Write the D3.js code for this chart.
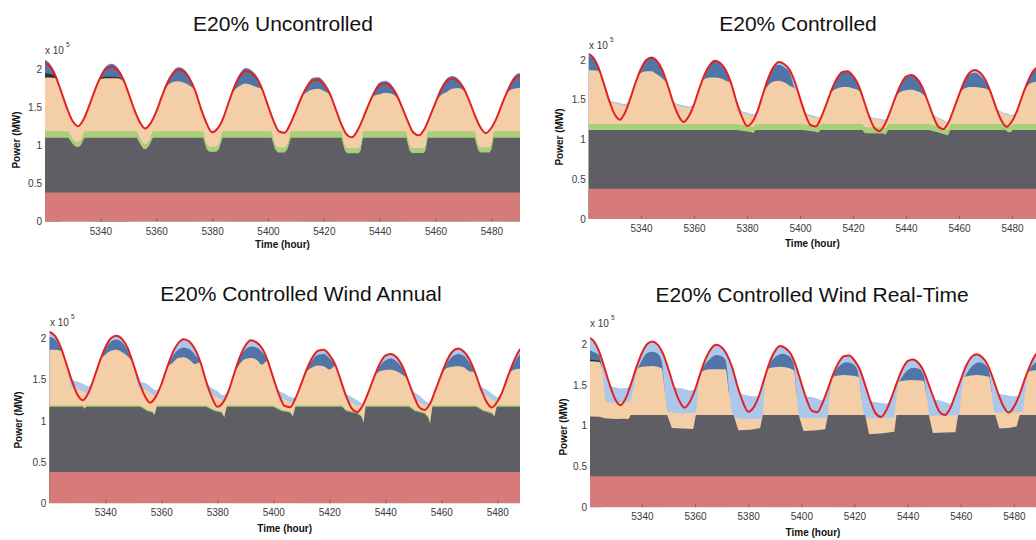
<!DOCTYPE html>
<html>
<head>
<meta charset="utf-8">
<script src="https://cdn.jsdelivr.net/npm/d3@7"></script>
<style>
  body { margin: 0; background: #ffffff; }
  svg { display: block; }
  text { font-family: "Liberation Sans", Arial, Helvetica, sans-serif; }
</style>
</head>
<body>
<svg id="chart" width="1036" height="540"></svg>
<script>
// ---- data (power levels in units of 1e5 MW) ----
const TITLES = ["E20% Uncontrolled", "E20% Controlled", "E20% Controlled Wind Annual", "E20% Controlled Wind Real-Time"];
const X_TICKS = [5340, 5360, 5380, 5400, 5420, 5440, 5460, 5480];
const Y_TICKS = [0, 0.5, 1, 1.5, 2];
const Y_TICK_LABELS = ["0", "0.5", "1", "1.5", "2"];

// sampling hours of the smooth series
const HOURS = [5320,5322,5324,5326,5328,5330,5332,5334,5336,5338,
  5340,5342,5344,5346,5348,5350,5352,5354,5356,5358,
  5360,5362,5364,5366,5368,5370,5372,5374,5376,5378,
  5380,5382,5384,5386,5388,5390,5392,5394,5396,5398,
  5400,5402,5404,5406,5408,5410,5412,5414,5416,5418,
  5420,5422,5424,5426,5428,5430,5432,5434,5436,5438,
  5440,5442,5444,5446,5448,5450,5452,5454,5456,5458,
  5460,5462,5464,5466,5468,5470,5472,5474,5476,5478,
  5480,5482,5484,5486,5488,5490,5492];

// system load (red line), same in every scenario
const LOAD = [2.08,2.03,1.90,1.70,1.49,1.32,1.25,1.34,1.52,1.72,
  1.89,2.00,2.03,1.99,1.88,1.69,1.48,1.31,1.22,1.29,
  1.44,1.64,1.82,1.94,1.99,1.96,1.87,1.71,1.48,1.29,
  1.17,1.22,1.36,1.57,1.77,1.91,1.975,1.95,1.88,1.73,
  1.52,1.32,1.18,1.165,1.28,1.45,1.63,1.77,1.85,1.86,
  1.80,1.69,1.50,1.30,1.15,1.105,1.19,1.35,1.53,1.69,
  1.79,1.81,1.77,1.67,1.50,1.32,1.17,1.13,1.21,1.38,
  1.56,1.73,1.84,1.875,1.84,1.75,1.59,1.40,1.24,1.16,
  1.23,1.37,1.56,1.73,1.86,1.91,1.915];

const NUCLEAR = [[5318, 0.38], [5494, 0.38]];

// ---- Uncontrolled ----
const UNC_TOP = [2.128,2.068,1.938,1.70,1.49,1.32,1.25,1.34,1.52,1.72,
  1.918,2.038,2.073,2.028,1.908,1.69,1.48,1.31,1.22,1.29,
  1.44,1.64,1.848,1.973,2.028,1.998,1.898,1.71,1.48,1.29,
  1.17,1.22,1.36,1.57,1.798,1.948,2.018,1.988,1.908,1.73,
  1.52,1.32,1.18,1.165,1.28,1.45,1.63,1.798,1.888,1.898,
  1.838,1.708,1.50,1.30,1.15,1.105,1.19,1.35,1.53,1.718,
  1.828,1.848,1.808,1.688,1.50,1.32,1.17,1.13,1.21,1.38,
  1.56,1.758,1.878,1.913,1.878,1.778,1.59,1.40,1.24,1.16,
  1.23,1.37,1.56,1.758,1.898,1.948,1.953];
const UNC_TAN = [1.89,1.89,1.88,1.70,1.49,1.32,1.25,1.34,1.52,1.72,
  1.87,1.88,1.88,1.88,1.85,1.69,1.48,1.31,1.22,1.29,
  1.44,1.64,1.78,1.83,1.84,1.82,1.78,1.71,1.48,1.29,
  1.17,1.22,1.36,1.57,1.72,1.78,1.81,1.79,1.76,1.73,
  1.52,1.32,1.18,1.165,1.28,1.45,1.63,1.70,1.73,1.74,
  1.71,1.66,1.50,1.30,1.15,1.105,1.19,1.35,1.53,1.65,
  1.67,1.69,1.68,1.63,1.50,1.32,1.17,1.13,1.21,1.38,
  1.56,1.66,1.70,1.74,1.75,1.72,1.59,1.40,1.24,1.16,
  1.23,1.37,1.56,1.70,1.74,1.75,1.75];
const UNC_DARKBLUE = [
  [[5320,2.12],[5322,2.06],[5324,1.93],[5326,1.70]],
  [[5338,1.72],[5340,1.91],[5342,2.03],[5344,2.065],[5346,2.02],[5348,1.90],[5350,1.69]],
  [[5362,1.64],[5364,1.84],[5366,1.965],[5368,2.02],[5370,1.99],[5372,1.89],[5374,1.71]],
  [[5386,1.57],[5388,1.79],[5390,1.94],[5392,2.01],[5394,1.98],[5396,1.90],[5398,1.73]],
  [[5412,1.63],[5414,1.79],[5416,1.88],[5418,1.89],[5420,1.83],[5422,1.70],[5424,1.50]],
  [[5436,1.53],[5438,1.71],[5440,1.82],[5442,1.84],[5444,1.80],[5446,1.68],[5448,1.50]],
  [[5460,1.56],[5462,1.75],[5464,1.87],[5466,1.905],[5468,1.87],[5470,1.77],[5472,1.59]],
  [[5484,1.56],[5486,1.75],[5488,1.89],[5490,1.94],[5492,1.945]]
];
const UNC_BLACK = [
  [[5320,1.945],[5322,1.935],[5324,1.90],[5326,1.70]],
  [[5338,1.72],[5340,1.885],[5342,1.90],[5344,1.90],[5346,1.895],[5348,1.86],[5350,1.69]]
];
const UNC_GREEN = [[5318,1.185],[5328.5,1.185],[5330,1.09],[5331,1.05],[5332,1.04],[5333,1.065],[5334.3,1.185],
  [5353,1.185],[5354.5,1.07],[5355.5,1.015],[5356.5,1.015],[5357.5,1.07],[5358.8,1.185],
  [5376.8,1.185],[5378,1.02],[5379,0.98],[5381.5,0.98],[5382.5,1.02],[5383.7,1.185],
  [5401.3,1.185],[5402.5,1.02],[5403.5,0.97],[5406,0.97],[5407,1.02],[5408.2,1.185],
  [5426.3,1.185],[5427.5,1.0],[5428.3,0.96],[5432.5,0.96],[5433.2,1.0],[5434,1.185],
  [5449.5,1.185],[5450.7,1.0],[5451.5,0.965],[5455.8,0.965],[5456.4,1.0],[5457.2,1.185],
  [5474,1.185],[5475.2,1.01],[5476,0.97],[5479.3,0.97],[5480,1.01],[5480.8,1.185],[5494,1.185]];
const UNC_COAL = [[5318,1.10],[5328.5,1.10],[5330,1.02],[5331,0.985],[5332,0.975],[5333,1.00],[5334.3,1.10],
  [5353,1.10],[5354.5,1.00],[5355.5,0.95],[5356.5,0.95],[5357.5,1.00],[5358.8,1.10],
  [5376.8,1.10],[5378,0.95],[5379,0.915],[5381.5,0.915],[5382.5,0.95],[5383.7,1.10],
  [5401.3,1.10],[5402.5,0.95],[5403.5,0.905],[5406,0.905],[5407,0.95],[5408.2,1.10],
  [5426.3,1.10],[5427.5,0.93],[5428.3,0.895],[5432.5,0.895],[5433.2,0.93],[5434,1.10],
  [5449.5,1.10],[5450.7,0.93],[5451.5,0.90],[5455.8,0.90],[5456.4,0.93],[5457.2,1.10],
  [5474,1.10],[5475.2,0.94],[5476,0.905],[5479.3,0.905],[5480,0.94],[5480.8,1.10],[5494,1.10]];

// ---- Controlled ----
const CTL_TOP = [2.08,2.03,1.90,1.70,1.49,1.475,1.46,1.445,1.52,1.72,
  1.90,2.01,2.04,2.00,1.885,1.69,1.48,1.445,1.43,1.415,
  1.44,1.64,1.825,1.945,1.995,1.965,1.875,1.71,1.48,1.36,
  1.34,1.32,1.36,1.57,1.775,1.915,1.98,1.955,1.885,1.73,
  1.52,1.33,1.31,1.29,1.28,1.45,1.63,1.775,1.855,1.865,
  1.805,1.69,1.50,1.30,1.275,1.265,1.25,1.35,1.53,1.69,
  1.795,1.815,1.775,1.67,1.50,1.32,1.28,1.25,1.22,1.38,
  1.56,1.73,1.845,1.88,1.845,1.75,1.59,1.40,1.35,1.33,
  1.31,1.37,1.56,1.73,1.865,1.915,1.92];
const CTL_TAN = [1.87,1.87,1.86,1.70,1.47,1.455,1.44,1.425,1.52,1.72,
  1.84,1.86,1.86,1.82,1.77,1.69,1.48,1.425,1.41,1.395,
  1.44,1.64,1.76,1.78,1.78,1.77,1.74,1.71,1.48,1.34,
  1.32,1.30,1.36,1.57,1.68,1.73,1.74,1.72,1.68,1.64,
  1.52,1.31,1.29,1.27,1.28,1.45,1.60,1.64,1.66,1.66,
  1.64,1.62,1.50,1.28,1.26,1.25,1.235,1.35,1.53,1.60,
  1.62,1.625,1.61,1.58,1.50,1.30,1.265,1.235,1.21,1.38,
  1.56,1.64,1.66,1.66,1.65,1.64,1.59,1.38,1.335,1.315,
  1.295,1.37,1.56,1.68,1.72,1.73,1.73];
const CTL_DARKBLUE = [
  [[5320,2.06],[5322,2.02],[5324,1.89],[5326,1.70]],
  [[5338,1.72],[5340,1.89],[5342,2.00],[5344,2.03],[5346,1.99],[5348,1.88],[5350,1.69]],
  [[5362,1.64],[5364,1.82],[5366,1.94],[5368,1.99],[5370,1.96],[5372,1.87],[5374,1.71]],
  [[5386,1.57],[5388,1.77],[5390,1.90],[5392,1.94],[5394,1.91],[5396,1.85],[5398,1.64],[5400,1.52]],
  [[5410,1.45],[5412,1.63],[5414,1.77],[5416,1.85],[5418,1.86],[5420,1.80],[5422,1.69],[5424,1.50]],
  [[5436,1.53],[5438,1.69],[5440,1.79],[5442,1.81],[5444,1.77],[5446,1.67],[5448,1.50]],
  [[5460,1.56],[5462,1.73],[5464,1.82],[5466,1.84],[5468,1.80],[5470,1.73],[5472,1.59]],
  [[5482,1.37],[5484,1.56],[5486,1.73],[5488,1.86],[5490,1.91],[5492,1.915]]
];
const CTL_GREEN = [[5318,1.195],[5376,1.195],[5380,1.175],[5381.5,1.17],[5382.3,1.155],[5383.3,1.195],
  [5400.5,1.195],[5405.5,1.175],[5406.8,1.16],[5407.8,1.195],
  [5423.5,1.195],[5424.5,1.155],[5431.5,1.15],[5432.3,1.135],[5433.3,1.195],
  [5448.5,1.195],[5452,1.165],[5455,1.135],[5455.8,1.125],[5456.8,1.195],
  [5477.5,1.195],[5478.5,1.165],[5479.5,1.165],[5480.3,1.195],[5494,1.195]];
const CTL_COAL = [[5318,1.12],[5376,1.12],[5380,1.10],[5381.5,1.095],[5382.3,1.08],[5383.3,1.12],
  [5400.5,1.12],[5405.5,1.10],[5406.8,1.085],[5407.8,1.12],
  [5423.5,1.12],[5424.5,1.08],[5431.5,1.075],[5432.3,1.06],[5433.3,1.12],
  [5448.5,1.12],[5452,1.09],[5455,1.06],[5455.8,1.05],[5456.8,1.12],
  [5477.5,1.12],[5478.5,1.09],[5479.5,1.09],[5480.3,1.12],[5494,1.12]];

// ---- Controlled, wind annual ----
const ANN_TOP = [2.08,2.03,1.90,1.70,1.50,1.475,1.45,1.42,1.52,1.72,
  1.89,2.00,2.03,1.99,1.88,1.69,1.48,1.46,1.42,1.37,
  1.44,1.64,1.82,1.94,1.99,1.96,1.87,1.71,1.48,1.40,
  1.36,1.31,1.36,1.57,1.77,1.91,1.975,1.95,1.88,1.73,
  1.52,1.37,1.33,1.29,1.28,1.45,1.63,1.77,1.85,1.86,
  1.80,1.69,1.50,1.33,1.29,1.25,1.21,1.35,1.53,1.69,
  1.79,1.81,1.77,1.67,1.50,1.36,1.31,1.25,1.21,1.38,
  1.56,1.73,1.84,1.875,1.84,1.75,1.59,1.42,1.38,1.33,
  1.29,1.37,1.56,1.73,1.86,1.91,1.915];
const ANN_TAN = [1.86,1.86,1.85,1.70,1.41,1.39,1.36,1.33,1.52,1.72,
  1.80,1.85,1.86,1.83,1.78,1.69,1.40,1.38,1.34,1.30,
  1.44,1.64,1.70,1.76,1.77,1.74,1.69,1.71,1.42,1.32,
  1.29,1.25,1.36,1.57,1.69,1.75,1.76,1.74,1.68,1.73,
  1.52,1.29,1.26,1.22,1.28,1.45,1.60,1.65,1.67,1.66,
  1.62,1.66,1.50,1.26,1.22,1.19,1.19,1.35,1.53,1.60,
  1.615,1.62,1.60,1.56,1.50,1.28,1.23,1.19,1.19,1.38,
  1.56,1.64,1.655,1.66,1.65,1.60,1.59,1.35,1.31,1.26,
  1.23,1.37,1.56,1.62,1.63,1.64,1.64];
const ANN_DARKBLUE = [
  [[5320,2.02],[5322,1.99],[5324,1.88],[5326,1.70]],
  [[5338,1.72],[5340,1.87],[5342,1.96],[5344,1.985],[5346,1.95],[5348,1.85],[5350,1.69]],
  [[5362,1.64],[5364,1.78],[5366,1.86],[5368,1.89],[5370,1.87],[5372,1.80],[5374,1.71]],
  [[5386,1.57],[5388,1.76],[5390,1.86],[5392,1.90],[5394,1.89],[5396,1.83],[5398,1.73]],
  [[5410,1.45],[5412,1.62],[5414,1.74],[5416,1.80],[5418,1.81],[5420,1.76],[5422,1.67],[5424,1.50]],
  [[5436,1.53],[5438,1.66],[5440,1.73],[5442,1.755],[5444,1.72],[5446,1.64],[5448,1.50]],
  [[5460,1.56],[5462,1.70],[5464,1.78],[5466,1.81],[5468,1.79],[5470,1.71],[5472,1.59]],
  [[5484,1.56],[5486,1.70],[5488,1.80],[5490,1.84],[5492,1.85]]
];
const ANN_GREEN = [[5318,1.188],[5332,1.188],[5332.6,1.163],[5333.3,1.188],
  [5352.5,1.188],[5355,1.138],[5356.8,1.118],[5357.6,1.088],[5358.4,1.188],
  [5376,1.188],[5379,1.138],[5381.5,1.118],[5382.5,1.058],[5383.4,1.188],
  [5400,1.188],[5403,1.138],[5406,1.118],[5407,1.068],[5407.9,1.188],
  [5424.5,1.188],[5426,1.138],[5430,1.108],[5431.5,1.068],[5432.2,0.988],[5433,1.188],
  [5448.5,1.188],[5450.5,1.138],[5454,1.108],[5455.3,1.058],[5456,0.978],[5456.8,1.188],
  [5472.5,1.188],[5475,1.138],[5478,1.108],[5479,1.068],[5479.8,1.188],[5494,1.188]];
const ANN_COAL = [[5318,1.17],[5332,1.17],[5332.6,1.145],[5333.3,1.17],
  [5352.5,1.17],[5355,1.12],[5356.8,1.10],[5357.6,1.07],[5358.4,1.17],
  [5376,1.17],[5379,1.12],[5381.5,1.10],[5382.5,1.04],[5383.4,1.17],
  [5400,1.17],[5403,1.12],[5406,1.10],[5407,1.05],[5407.9,1.17],
  [5424.5,1.17],[5426,1.12],[5430,1.09],[5431.5,1.05],[5432.2,0.97],[5433,1.17],
  [5448.5,1.17],[5450.5,1.12],[5454,1.09],[5455.3,1.04],[5456,0.96],[5456.8,1.17],
  [5472.5,1.17],[5475,1.12],[5478,1.09],[5479,1.05],[5479.8,1.17],[5494,1.17]];

// ---- Controlled, wind real-time ----
const RT_TOP = [2.08,2.03,1.90,1.70,1.49,1.47,1.455,1.46,1.52,1.72,
  1.89,2.00,2.03,1.99,1.88,1.69,1.48,1.46,1.45,1.43,
  1.44,1.64,1.82,1.94,1.99,1.96,1.87,1.71,1.48,1.38,
  1.37,1.36,1.36,1.57,1.77,1.91,1.975,1.95,1.88,1.73,
  1.52,1.36,1.35,1.33,1.31,1.45,1.63,1.77,1.85,1.86,
  1.80,1.69,1.50,1.30,1.29,1.28,1.27,1.35,1.53,1.69,
  1.79,1.81,1.77,1.67,1.50,1.32,1.31,1.29,1.27,1.38,
  1.56,1.73,1.84,1.875,1.84,1.75,1.59,1.40,1.38,1.37,
  1.36,1.37,1.56,1.73,1.86,1.91,1.915];
const RT_TAN = [[5320,1.79],[5324,1.78],[5325,1.70],[5326.5,1.30],[5328,1.28],[5332,1.28],[5335.5,1.29],
  [5336.5,1.40],[5338.5,1.70],[5340,1.72],[5344,1.73],[5347.5,1.70],
  [5348.5,1.45],[5349.8,1.17],[5355,1.15],[5360.3,1.16],
  [5361,1.40],[5362.3,1.66],[5366,1.69],[5371.5,1.69],
  [5372.8,1.40],[5374.7,1.10],[5380,1.08],[5385.3,1.09],
  [5386,1.40],[5387.4,1.70],[5392,1.72],[5397.2,1.68],
  [5398.2,1.40],[5399.3,1.10],[5405,1.09],[5409.8,1.10],
  [5410.6,1.35],[5411.8,1.60],[5416,1.62],[5421.5,1.60],
  [5422.6,1.35],[5423.8,1.10],[5429,1.09],[5434.8,1.10],
  [5435.8,1.35],[5436.9,1.54],[5441,1.56],[5446,1.55],
  [5447.2,1.35],[5448.3,1.12],[5453,1.12],[5459.3,1.13],
  [5460.3,1.40],[5461.5,1.60],[5466,1.62],[5470.6,1.60],
  [5471.7,1.40],[5472.7,1.16],[5478,1.16],[5483.2,1.17],
  [5484.2,1.40],[5485.3,1.66],[5488,1.68],[5492,1.68]];
const RT_DARKBLUE = [
  [[5320,1.93],[5322,1.90],[5324,1.86],[5325,1.70]],
  [[5338.5,1.70],[5340,1.80],[5342,1.89],[5344,1.905],[5346,1.88],[5347.5,1.78],[5348.5,1.45]],
  [[5362.3,1.66],[5364,1.76],[5366,1.83],[5368,1.865],[5370,1.85],[5371.5,1.80],[5372.8,1.40]],
  [[5387.4,1.70],[5389,1.80],[5391,1.86],[5393,1.88],[5395,1.86],[5397,1.77],[5398.2,1.40]],
  [[5411.8,1.60],[5413,1.68],[5415,1.75],[5417,1.775],[5419,1.76],[5421,1.69],[5422.6,1.35]],
  [[5436.9,1.54],[5438,1.60],[5440,1.68],[5442,1.71],[5444,1.70],[5446,1.62],[5447.2,1.35]],
  [[5461.5,1.60],[5463,1.68],[5465,1.75],[5467,1.775],[5469,1.75],[5470.5,1.68],[5471.7,1.40]],
  [[5485.3,1.66],[5487,1.74],[5490,1.80],[5492,1.81]]
];
const RT_BLACK = [
  [[5320,1.81],[5322,1.805],[5324,1.795],[5325,1.70]]
];
const RT_COAL = [[5318,1.115],[5324,1.11],[5326,1.09],[5330,1.08],[5333,1.085],[5335,1.08],[5335.8,1.13],
  [5349.5,1.13],[5351.3,0.97],[5355,0.965],[5359.3,0.96],[5360.3,1.13],
  [5374.5,1.13],[5376.3,0.945],[5381,0.95],[5384.5,0.97],[5385.5,1.13],
  [5399,1.13],[5400.8,0.935],[5405,0.94],[5409,0.955],[5410,1.13],
  [5424,1.13],[5425.5,0.895],[5430,0.905],[5433.5,0.92],[5435,0.925],[5435.8,1.13],
  [5448,1.13],[5449.5,0.91],[5454,0.915],[5458,0.92],[5459,1.13],
  [5473,1.13],[5474.5,0.965],[5478,0.97],[5481,0.99],[5482.2,1.13],[5494,1.13]];

// ---- styling ----
const COLORS = {
  nuclear: "#d67a7a", coal: "#5f5e64", green: "#a9cf7b", tan: "#f3cea7",
  lightBlue: "#abc8ec", darkBlue: "#5175a6", black: "#352f2f", load: "#e3211f"
};

const onGrid = vals => HOURS.map((h, i) => [h, vals[i]]);

const PANELS = [
  { title: TITLES[0], top: onGrid(UNC_TOP), tan: onGrid(UNC_TAN), darkBlue: UNC_DARKBLUE, black: UNC_BLACK, green: UNC_GREEN, coal: UNC_COAL,
    left: 45, right: 520, x5340: 100.4, x5480: 491.4, y0: 221.5, y2: 69,
    titleX: 283, titleY: 31, ylabX: 16, ylabY: 140, xlabY: 248, expX: 45, expY: 53.5 },
  { title: TITLES[1], top: onGrid(CTL_TOP), tan: onGrid(CTL_TAN), darkBlue: CTL_DARKBLUE, black: [], green: CTL_GREEN, coal: CTL_COAL,
    left: 588.7, right: 1036, x5340: 641, x5480: 1012, y0: 219, y2: 60,
    titleX: 798, titleY: 30.5, ylabX: 559.5, ylabY: 137, xlabY: 246.5, expX: 589, expY: 48.5 },
  { title: TITLES[2], top: onGrid(ANN_TOP), tan: onGrid(ANN_TAN), darkBlue: ANN_DARKBLUE, black: [], green: ANN_GREEN, coal: ANN_COAL,
    left: 49.3, right: 520, x5340: 105.3, x5480: 497.3, y0: 503.3, y2: 338.3,
    titleX: 301, titleY: 301, ylabX: 18.5, ylabY: 420, xlabY: 531.5, expX: 50, expY: 326 },
  { title: TITLES[3], top: onGrid(RT_TOP), tan: RT_TAN, darkBlue: RT_DARKBLUE, black: RT_BLACK, green: null, coal: RT_COAL,
    left: 590, right: 1036, x5340: 641.9, x5480: 1013.9, y0: 507.3, y2: 344,
    titleX: 812, titleY: 301.5, ylabX: 563, ylabY: 427, xlabY: 536, expX: 590, expY: 327 }
];

const svg = d3.select("#chart");
const defs = svg.append("defs");

PANELS.forEach((p, i) => {
  const x = d3.scaleLinear().domain([5340, 5480]).range([p.x5340, p.x5480]);
  const y = d3.scaleLinear().domain([0, 2]).range([p.y0, p.y2]);

  defs.append("clipPath").attr("id", "plot" + i)
    .append("rect")
    .attr("x", p.left).attr("y", p.y2 - 40)
    .attr("width", p.right - p.left).attr("height", p.y0 - p.y2 + 40);

  const g = svg.append("g").attr("clip-path", `url(#plot${i})`);

  // each level is filled down to zero; lower layers are painted on top
  const smooth = d3.area().x(d => x(d[0])).y0(y(0)).y1(d => y(d[1])).curve(d3.curveMonotoneX);
  const sharp = d3.area().x(d => x(d[0])).y0(y(0)).y1(d => y(d[1]));

  g.append("path").attr("d", smooth(p.top)).attr("fill", COLORS.lightBlue);
  p.darkBlue.forEach(seg => g.append("path").attr("d", smooth(seg)).attr("fill", COLORS.darkBlue));
  p.black.forEach(seg => g.append("path").attr("d", smooth(seg)).attr("fill", COLORS.black));
  g.append("path").attr("d", smooth(p.tan)).attr("fill", COLORS.tan);
  if (p.green) g.append("path").attr("d", sharp(p.green)).attr("fill", COLORS.green);
  g.append("path").attr("d", sharp(p.coal)).attr("fill", COLORS.coal);
  g.append("path").attr("d", sharp(NUCLEAR)).attr("fill", COLORS.nuclear);

  // load curve
  g.append("path")
    .attr("d", d3.line().x(d => x(d[0])).y(d => y(d[1])).curve(d3.curveMonotoneX)(onGrid(LOAD)))
    .attr("fill", "none").attr("stroke", COLORS.load).attr("stroke-width", 2);

  // x axis: inward ticks, labels below
  const xa = svg.append("g").attr("transform", `translate(0,${p.y0})`)
    .call(d3.axisBottom(x).tickValues(X_TICKS).tickFormat(d3.format("d")).tickSizeInner(-3).tickSizeOuter(0).tickPadding(6));
  xa.select(".domain").remove();
  xa.selectAll("line").attr("stroke", "#7a3a3a").attr("stroke-opacity", 0.6);
  xa.selectAll("text").attr("fill", "#3a3a3a").attr("font-size", 10)
    .attr("font-family", '"Liberation Sans", Arial, sans-serif');

  // y axis labels
  const ya = svg.append("g").attr("transform", `translate(${p.left},0)`)
    .call(d3.axisLeft(y).tickValues(Y_TICKS).tickFormat((d, k) => Y_TICK_LABELS[k]).tickSize(0).tickPadding(3));
  ya.select(".domain").remove();
  ya.selectAll("text").attr("fill", "#3a3a3a").attr("font-size", 10)
    .attr("font-family", '"Liberation Sans", Arial, sans-serif');

  // exponent marker
  const ex = svg.append("text").attr("x", p.expX).attr("y", p.expY)
    .attr("font-size", 10).attr("fill", "#3a3a3a").text("x 10");
  ex.append("tspan").attr("dx", 2).attr("dy", -7).attr("font-size", 6.5).text("5");

  // titles
  svg.append("text").attr("x", p.titleX).attr("y", p.titleY)
    .attr("text-anchor", "middle").attr("font-size", 21).attr("fill", "#111").text(p.title);

  svg.append("text").attr("x", (p.left + p.right) / 2).attr("y", p.xlabY)
    .attr("text-anchor", "middle").attr("font-size", 10).attr("font-weight", "bold").attr("fill", "#111")
    .text("Time (hour)");

  svg.append("text")
    .attr("transform", `translate(${p.ylabX},${p.ylabY}) rotate(-90)`)
    .attr("text-anchor", "middle").attr("dominant-baseline", "central")
    .attr("font-size", 10).attr("font-weight", "bold").attr("fill", "#111")
    .text("Power (MW)");
});
</script>
</body>
</html>
